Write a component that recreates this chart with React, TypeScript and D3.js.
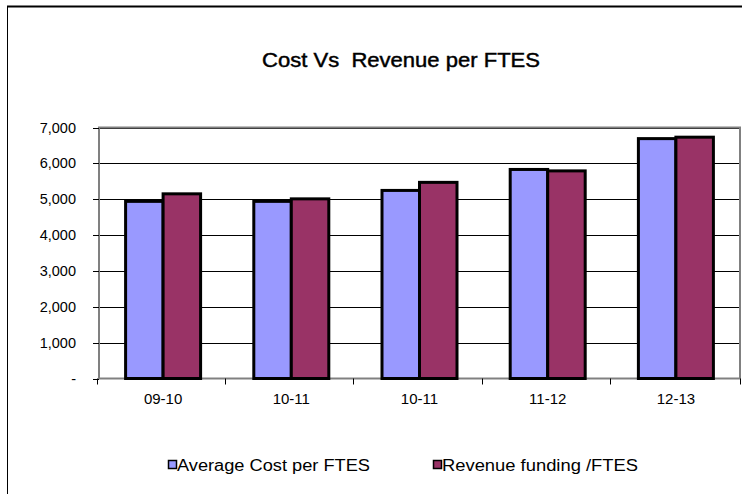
import React from "react";
import * as d3 from "d3";

const categories = ["09-10", "10-11", "10-11", "11-12", "12-13"];
const avgCost = [4940, 4940, 5245, 5830, 6690];
const revenue = [5150, 5010, 5470, 5790, 6730];
const seriesNames = ["Average Cost per FTES", "Revenue funding /FTES"];
const seriesColors = ["#9999FF", "#993366"];
const yTicks = [0, 1000, 2000, 3000, 4000, 5000, 6000, 7000];

const W = 742;
const H = 494;
const plot = { left: 99, right: 740, top: 127.5, bottom: 378.5 };
const FONT = "'Liberation Sans', Arial, sans-serif";

export default function App() {
  const x = d3
    .scaleBand<number>()
    .domain(categories.map((_, i) => i))
    .range([plot.left, plot.right])
    .paddingInner(0)
    .paddingOuter(0);
  const y = d3.scaleLinear().domain([0, 7000]).range([plot.bottom, plot.top]);
  const groupW = 75;
  const x1 = d3.scaleBand<number>().domain([0, 1]).range([0, groupW]);
  const fmt = d3.format(",");
  const series = [avgCost, revenue];
  const legendX = [168, 433];
  const legendLen = [193, 196];

  return (
    <svg
      width={W}
      height={H}
      style={{ position: "absolute", left: 0, top: 0, background: "#fff" }}
      fontFamily={FONT}
    >
      <rect x={0} y={0} width={W} height={H} fill="#fff" />
      <line x1={7} x2={W} y1={6.5} y2={6.5} stroke="#000" strokeWidth={2} />
      <line x1={7.5} x2={7.5} y1={6} y2={H} stroke="#000" strokeWidth={1} />

      <text
        x={262}
        y={67}
        fontSize={20}
        fill="#000"
        stroke="#000"
        strokeWidth={0.45}
        textLength={278}
        lengthAdjust="spacingAndGlyphs"
        style={{ whiteSpace: "pre" }}
      >
        {"Cost Vs  Revenue per FTES"}
      </text>

      {yTicks.slice(1).map((t) => (
        <line
          key={"g" + t}
          x1={plot.left}
          x2={plot.right}
          y1={Math.round(y(t)) + 0.5}
          y2={Math.round(y(t)) + 0.5}
          stroke="#000"
          strokeWidth={1}
        />
      ))}
      <rect
        x={plot.left}
        y={plot.top}
        width={plot.right - plot.left}
        height={plot.bottom - plot.top}
        fill="none"
        stroke="#808080"
        strokeWidth={2}
      />
      {yTicks.map((t) => (
        <g key={"y" + t}>
          <line
            x1={plot.left - 6}
            x2={plot.left}
            y1={Math.round(y(t)) + 0.5}
            y2={Math.round(y(t)) + 0.5}
            stroke="#000"
          />
          <text x={76} y={y(t) + 5} textAnchor="end" fontSize={14.5} fill="#000">
            {t === 0 ? "-" : fmt(t)}
          </text>
        </g>
      ))}
      {categories.map((_, i) => (
        <line
          key={"xt" + i}
          x1={Math.round(x(i)!) - 1.5}
          x2={Math.round(x(i)!) - 1.5}
          y1={plot.bottom}
          y2={plot.bottom + 6}
          stroke="#000"
        />
      ))}
      <line
        x1={plot.right + 0.5}
        x2={plot.right + 0.5}
        y1={plot.bottom}
        y2={plot.bottom + 6}
        stroke="#000"
      />
      {categories.map((c, i) => {
        const gx = x(i)! + (x.bandwidth() - groupW) / 2;
        return (
          <g key={"b" + i}>
            {series.map((s, k) => (
              <rect
                key={k}
                x={gx + x1(k)!}
                y={y(s[i])}
                width={x1.bandwidth()}
                height={plot.bottom - y(s[i])}
                fill={seriesColors[k]}
                stroke="#000"
                strokeWidth={3}
              />
            ))}
            <text
              x={x(i)! + x.bandwidth() / 2}
              y={403.5}
              textAnchor="middle"
              fontSize={15}
              fill="#000"
            >
              {c}
            </text>
          </g>
        );
      })}
      {seriesNames.map((n, k) => {
        const lx = legendX[k];
        return (
          <g key={"l" + k}>
            <rect
              x={lx + 0.5}
              y={460.5}
              width={8}
              height={8}
              fill={seriesColors[k]}
              stroke="#000"
              strokeWidth={1.5}
            />
            <text
              x={lx + 9}
              y={470.5}
              fontSize={16}
              fill="#000"
              textLength={legendLen[k]}
              lengthAdjust="spacingAndGlyphs"
            >
              {n}
            </text>
          </g>
        );
      })}
    </svg>
  );
}
